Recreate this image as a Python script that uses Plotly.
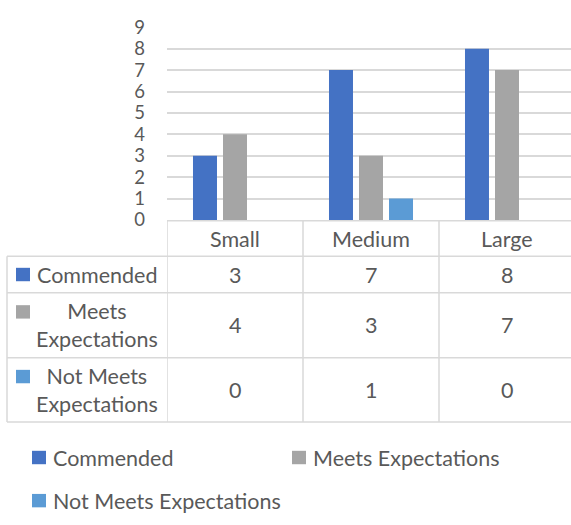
import plotly.graph_objects as go

# Chart data
categories = ["Small", "Medium", "Large"]
series_names = ["Commended", "Meets Expectations", "Not Meets Expectations"]
commended = [3, 7, 8]
meets = [4, 3, 7]
not_meets = [0, 1, 0]
y_ticks = list(range(0, 10))

# Row labels in the data table (wrapped like the chart's table)
table_row_labels = ["Commended", "Meets<br>Expectations", "Not Meets<br>Expectations"]

colors = ["#4472C4", "#A5A5A5", "#5B9BD5"]
text_color = "#595959"
line_color = "#D9D9D9"
FONT = "Lato"
FS = 21.5
TICK_FS = 18.5

W, H = 571, 525


def px(x):
    return x / W


def py(y):
    return 1 - y / H


values = [commended, meets, not_meets]

fig = go.Figure()
for name, vals, col in zip(series_names, values, colors):
    fig.add_trace(go.Bar(name=name, x=categories, y=vals, marker_color=col,
                         marker_line_width=0, showlegend=False))

# Plot area geometry (pixels)
plot_left, plot_right, plot_top, plot_bottom = 167, 571, 16, 217
cat_step = 136.0
x_max = (plot_right - plot_left) / cat_step - 0.5

fig.update_layout(
    width=W, height=H,
    margin=dict(l=0, r=0, t=0, b=0),
    paper_bgcolor="white", plot_bgcolor="white",
    barmode="group", bargap=0.338, bargroupgap=0.2,
    font=dict(family=FONT, size=FS, color=text_color),
    xaxis=dict(domain=[px(plot_left), 1], range=[-0.5, x_max],
               showticklabels=False, showgrid=False, zeroline=False,
               showline=False, ticks=""),
    yaxis=dict(domain=[py(plot_bottom), py(plot_top)], range=[0, 9],
               tickvals=y_ticks, showgrid=True, gridcolor=line_color,
               gridwidth=1.5, zeroline=False, showline=False, ticks="",
               ticklabelstandoff=21,
               tickfont=dict(family=FONT, size=TICK_FS, color=text_color)),
)

shapes = []
annotations = []

# Data table grid
tbl_top, hdr_bottom = 218, 255
row_edges = [255, 293, 361, 428]
tbl_left = 7


def hline(y, x0, x1):
    shapes.append(dict(type="line", xref="paper", yref="paper",
                       x0=px(x0), x1=px(x1), y0=py(y), y1=py(y),
                       line=dict(color=line_color, width=1.5)))


def vline_paper(x, y0, y1):
    shapes.append(dict(type="line", xref="paper", yref="paper",
                       x0=px(x), x1=px(x), y0=py(y0), y1=py(y1),
                       line=dict(color=line_color, width=1.5)))


hline(tbl_top, plot_left, W + 5)
for y in row_edges:
    hline(y, tbl_left, W + 5)
vline_paper(tbl_left, row_edges[0], row_edges[-1])

# Column separators at category boundaries
for i in range(len(categories)):
    shapes.append(dict(type="line", xref="x", yref="paper",
                       x0=i - 0.5, x1=i - 0.5, y0=py(tbl_top), y1=py(row_edges[-1]),
                       line=dict(color=line_color, width=1.5)))

# Header row: category names
for c in categories:
    annotations.append(dict(xref="x", yref="paper", x=c, y=py((tbl_top + hdr_bottom) / 2),
                            text=c, showarrow=False, xanchor="center", yanchor="middle"))

# Body rows: series label with color key, and values
for r, (label, vals, col) in enumerate(zip(table_row_labels, values, colors)):
    y0, y1 = row_edges[r], row_edges[r + 1]
    yc = (y0 + y1) / 2
    two_lines = "<br>" in label
    key_y = yc - 14 if two_lines else yc
    shapes.append(dict(type="rect", xref="paper", yref="paper",
                       x0=px(16), x1=px(30), y0=py(key_y - 7), y1=py(key_y + 7),
                       fillcolor=col, line=dict(width=0)))
    annotations.append(dict(xref="paper", yref="paper", x=px(97), y=py(yc),
                            text=label, showarrow=False, xanchor="center",
                            yanchor="middle", align="center"))
    for c, v in zip(categories, vals):
        annotations.append(dict(xref="x", yref="paper", x=c, y=py(yc),
                                text=str(v), showarrow=False,
                                xanchor="center", yanchor="middle"))

# Legend below the table
legend_pos = [(32, 465), (292, 465), (32, 510)]
for (lx, ly), name, col in zip(legend_pos, series_names, colors):
    shapes.append(dict(type="rect", xref="paper", yref="paper",
                       x0=px(lx), x1=px(lx + 14), y0=py(ly - 7), y1=py(ly + 7),
                       fillcolor=col, line=dict(width=0)))
    annotations.append(dict(xref="paper", yref="paper", x=px(lx + 19), y=py(ly),
                            text=name, showarrow=False, xanchor="left",
                            yanchor="middle"))

fig.update_layout(shapes=shapes, annotations=annotations)
fig.write_html("out.html")
